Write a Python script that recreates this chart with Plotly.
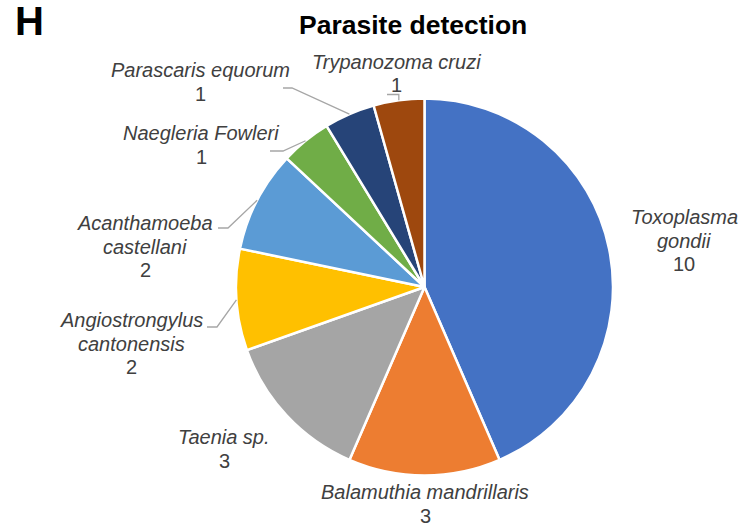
import math
import plotly.graph_objects as go

W, H = 751, 529

species = ["Toxoplasma<br>gondii", "Balamuthia mandrillaris", "Taenia sp.",
           "Angiostrongylus<br>cantonensis", "Acanthamoeba<br>castellani",
           "Naegleria Fowleri", "Parascaris equorum", "Trypanozoma cruzi"]
counts = [10, 3, 3, 2, 2, 1, 1, 1]
colors = ["#4472C4", "#ED7D31", "#A5A5A5", "#FFC000", "#5B9BD5", "#70AD47", "#264478", "#9E480E"]

# layout (pixel) helpers
CX, CY, R = 424.5, 287.0, 188.5
LINE = 23.6
def px(x):
    return x / W
def py(y):
    return 1 - y / H

# label x centre and first-line y centre (pixels)
label_pos = [(684, 217), (425, 492), (224, 437), (131, 320), (145, 223), (201, 133), (200, 70), (396, 61.5)]
# leader-line start and elbow points (pixels); None = no leader
leaders = [None, None, None,
           ((207, 327), (217, 327)),
           ((218, 228), (228, 228)),
           ((270, 151), (283, 151)),
           ((283, 88), (292, 88)),
           ((387, 94.5), None)]

fig = go.Figure()
fig.add_trace(go.Pie(
    labels=[s.replace("<br>", " ") for s in species],
    values=counts,
    sort=False,
    direction="clockwise",
    rotation=0,
    marker=dict(colors=colors, line=dict(color="white", width=2.5)),
    textinfo="none",
    showlegend=False,
    domain=dict(x=[px(CX - R), px(CX + R)], y=[py(CY + R), py(CY - R)]),
))

font_family = "Liberation Sans, Arial, sans-serif"
annotations = []
total = sum(counts)
cum = 0
shapes = []
for i, (name, v) in enumerate(zip(species, counts)):
    mid = (cum + v / 2) / total * 2 * math.pi
    cum += v
    ex = CX + R * math.sin(mid)
    ey = CY - R * math.cos(mid)
    lx, ly = label_pos[i]
    lines = [f"<i>{t}</i>" for t in name.split("<br>")] + [str(v)]
    for k, t in enumerate(lines):
        annotations.append(dict(
            x=px(lx), y=py(ly + k * LINE), xref="paper", yref="paper",
            text=t, showarrow=False,
            xanchor="center", yanchor="middle", align="center",
            font=dict(family=font_family, size=20, color="#404040"),
        ))
    if leaders[i] is not None:
        (sx, sy), elbow = leaders[i]
        if elbow is None:
            elbow = (ex, sy)
        path = f"M {px(sx)},{py(sy)} L {px(elbow[0])},{py(elbow[1])} L {px(ex)},{py(ey)}"
        shapes.append(dict(type="path", path=path, xref="paper", yref="paper",
                           line=dict(color="#A6A6A6", width=1.3)))

annotations.append(dict(
    x=px(413.5), y=py(25), xref="paper", yref="paper",
    text="<b>Parasite detection</b>", showarrow=False,
    xanchor="center", yanchor="middle",
    font=dict(family=font_family, size=26.5, color="black"),
))
annotations.append(dict(
    x=px(13), y=py(21), xref="paper", yref="paper",
    text="<b>H</b>", showarrow=False,
    xanchor="left", yanchor="middle",
    font=dict(family=font_family, size=40, color="black"),
))

fig.update_layout(
    width=W, height=H,
    margin=dict(l=0, r=0, t=0, b=0),
    paper_bgcolor="white", plot_bgcolor="white",
    annotations=annotations,
    shapes=shapes,
)

fig.write_html("out.html", config={"displayModeBar": False},
               post_script="document.body.style.margin='0';document.body.style.overflow='hidden';")
